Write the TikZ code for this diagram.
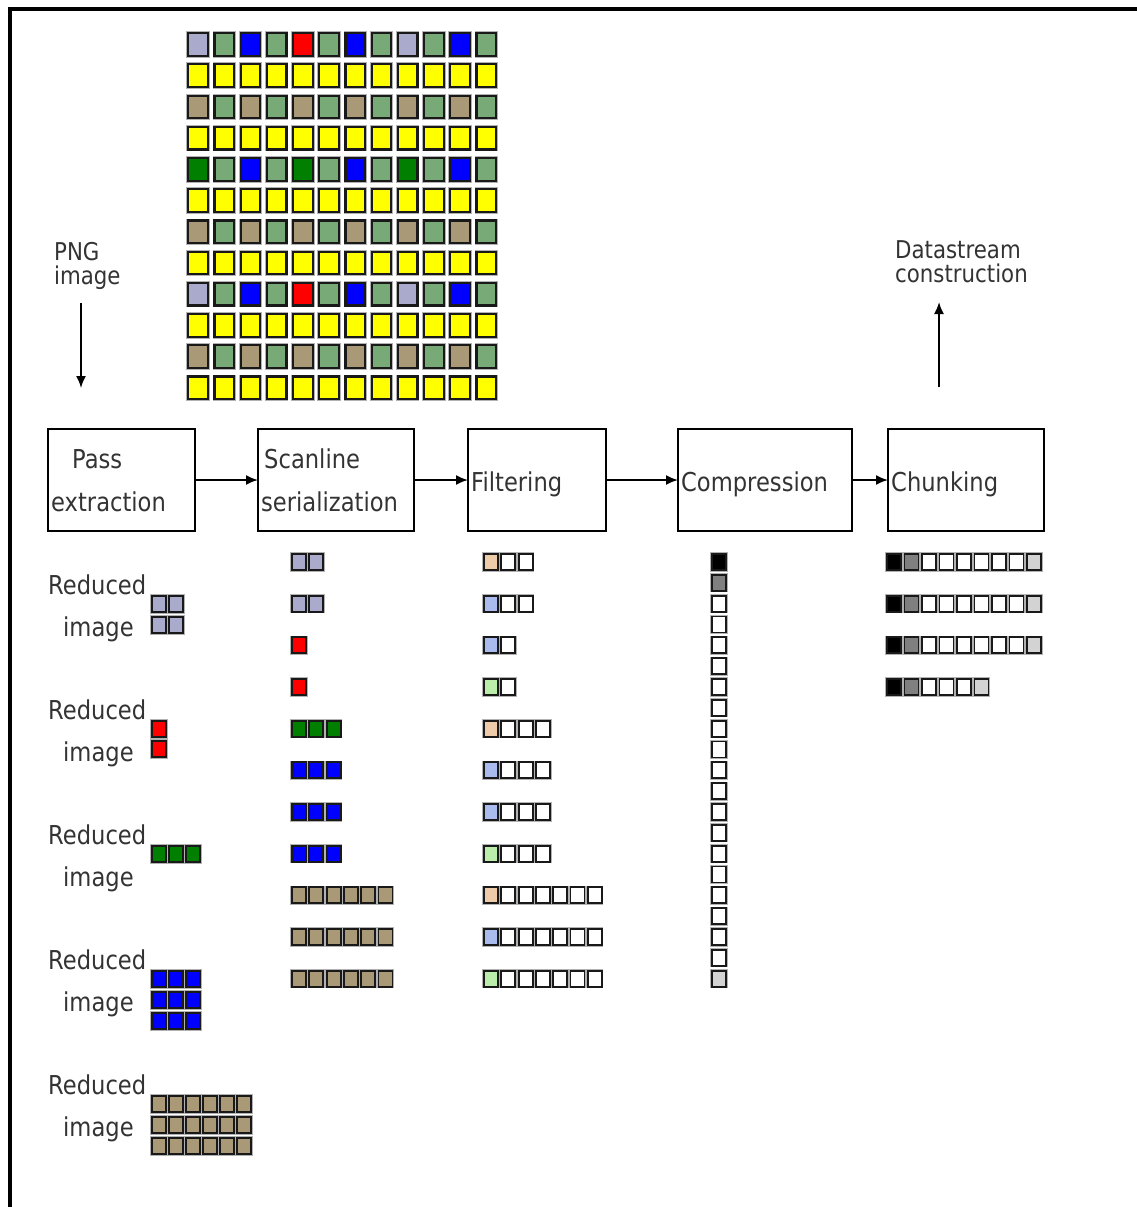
\documentclass[tikz,border=0pt]{standalone}
\usepackage{fontspec}
\setmainfont{DejaVu Sans}[FakeStretch=0.87]
\usetikzlibrary{arrows.meta}
\definecolor{cL}{HTML}{AAAACC}
\definecolor{cG}{HTML}{77AA77}
\definecolor{cB}{HTML}{0000FF}
\definecolor{cR}{HTML}{FF0000}
\definecolor{cY}{HTML}{FFFF00}
\definecolor{cT}{HTML}{AA9977}
\definecolor{cD}{HTML}{007F00}
\definecolor{fP}{HTML}{EECCAA}
\definecolor{fB}{HTML}{AABBEE}
\definecolor{fG}{HTML}{BBEEAA}
\definecolor{W}{HTML}{FFFFFF}
\definecolor{K}{HTML}{000000}
\definecolor{Gr}{HTML}{808080}
\definecolor{Lg}{HTML}{D3D3D3}
\newcommand\myrow[4]{% x, y, pitch, colours
  \foreach \c [count=\i from 0] in #4 {
    \draw[smsq, fill=\c] ({#1+#3*\i+1},{#2+1}) rectangle ++(14,16);
  }}
\begin{document}
\begin{tikzpicture}[x=1pt,y=-1pt,
  bigsq/.style={draw=black!90, line width=2.2pt, preaction={draw=black!30, line width=3.8pt}},
  smsq/.style={draw=black!90, line width=1.8pt, preaction={draw=black!30, line width=3.2pt}},
  box/.style={draw=black, line width=1.8pt, inner sep=0pt, outer sep=0pt},
  lbl/.style={anchor=base west, inner sep=0pt, text=black!80, font=\fontsize{26}{26}\selectfont},
  tight/.style={anchor=north west, inner sep=0pt, text=black!80, align=left, font=\fontsize{24.5}{24}\selectfont},
  arr/.style={-{Latex[length=12pt,width=10pt]}, line width=1.8pt}]
\useasboundingbox (0,0) rectangle (1137,1207);
% frame
\draw[line width=4pt] (10,1212) -- (10,9.5) -- (1142,9.5);

% top image grid
\foreach \row [count=\j from 0] in {
 {cL,cG,cB,cG,cR,cG,cB,cG,cL,cG,cB,cG},
 {cY,cY,cY,cY,cY,cY,cY,cY,cY,cY,cY,cY},
 {cT,cG,cT,cG,cT,cG,cT,cG,cT,cG,cT,cG},
 {cY,cY,cY,cY,cY,cY,cY,cY,cY,cY,cY,cY},
 {cD,cG,cB,cG,cD,cG,cB,cG,cD,cG,cB,cG},
 {cY,cY,cY,cY,cY,cY,cY,cY,cY,cY,cY,cY},
 {cT,cG,cT,cG,cT,cG,cT,cG,cT,cG,cT,cG},
 {cY,cY,cY,cY,cY,cY,cY,cY,cY,cY,cY,cY},
 {cL,cG,cB,cG,cR,cG,cB,cG,cL,cG,cB,cG},
 {cY,cY,cY,cY,cY,cY,cY,cY,cY,cY,cY,cY},
 {cT,cG,cT,cG,cT,cG,cT,cG,cT,cG,cT,cG},
 {cY,cY,cY,cY,cY,cY,cY,cY,cY,cY,cY,cY}} {
  \foreach \c [count=\i from 0] in \row {
    \draw[bigsq, fill=\c] ({187+26.2*\i+1.2},{32+31.2*\j+1.2}) rectangle ++(19.6,22.6);
  }
}

% side labels and arrows
\node[tight] (png) at (54,242) {PNG\\image};
\coordinate (pngtop) at (81,303);
\coordinate (pngbot) at (81,388);
\draw[arr] (pngtop) -- (pngbot);

\node[tight] (ds) at (895,240) {Datastream\\construction};
\coordinate (dsbot) at (939,387);
\coordinate (dstop) at (939,302);
\draw[arr] (dsbot) -- (dstop);

% process boxes
\node[box, minimum width=147pt, minimum height=102pt] (pass) at (121.5,480) {};
\node[box, minimum width=156pt, minimum height=102pt] (scan) at (336,480) {};
\node[box, minimum width=138pt, minimum height=102pt] (filt) at (537,480) {};
\node[box, minimum width=174pt, minimum height=102pt] (comp) at (765,480) {};
\node[box, minimum width=156pt, minimum height=102pt] (chunk) at (966,480) {};

\node[lbl] (passa) at (72,468) {Pass};
\node[lbl] (passb) at (51,511) {extraction};
\node[lbl] (scana) at (264,468) {Scanline};
\node[lbl] (scanb) at (261,511) {serialization};
\node[lbl] (filta) at (471,491) {Filtering};
\node[lbl] (compa) at (681,491) {Compression};
\node[lbl] (chunka) at (891,491) {Chunking};

\draw[arr] (pass.east) -- (scan.west);
\draw[arr] (scan.east) -- (filt.west);
\draw[arr] (filt.east) -- (comp.west);
\draw[arr] (comp.east) -- (chunk.west);

% reduced images
\foreach \k in {0,...,4} {
  \node[lbl] (reda\k) at (48,{594+125*\k}) {Reduced};
  \node[lbl] (redb\k) at (63,{636+125*\k}) {image};
}
\myrow{151}{595}{17}{{cL,cL}}
\myrow{151}{616}{17}{{cL,cL}}
\myrow{151}{720}{17}{{cR}}
\myrow{151}{740}{17}{{cR}}
\myrow{151}{845}{17}{{cD,cD,cD}}
\foreach \r in {0,1,2} {\myrow{151}{970+21*\r}{17}{{cB,cB,cB}}}
\foreach \r in {0,1,2} {\myrow{151}{1095+21*\r}{17}{{cT,cT,cT,cT,cT,cT}}}

% scanline serialization
\foreach \cols [count=\r from 0] in {
 {cL,cL},{cL,cL},{cR},{cR},{cD,cD,cD},{cB,cB,cB},{cB,cB,cB},{cB,cB,cB},
 {cT,cT,cT,cT,cT,cT},{cT,cT,cT,cT,cT,cT},{cT,cT,cT,cT,cT,cT}} {
  \myrow{291}{553+41.67*\r}{17.3}{\cols}
}

% filtering
\foreach \cols [count=\r from 0] in {
 {fP,W,W},{fB,W,W},{fB,W},{fG,W},{fP,W,W,W},{fB,W,W,W},{fB,W,W,W},{fG,W,W,W},
 {fP,W,W,W,W,W,W},{fB,W,W,W,W,W,W},{fG,W,W,W,W,W,W}} {
  \myrow{483}{553+41.67*\r}{17.3}{\cols}
}

% compression
\foreach \c [count=\k from 0] in {K,Gr,W,W,W,W,W,W,W,W,W,W,W,W,W,W,W,W,W,W,Lg} {
  \draw[smsq, fill=\c] (712,{553+20.83*\k+1}) rectangle ++(14,16);
}

% chunking
\foreach \cols [count=\r from 0] in {
 {K,Gr,W,W,W,W,W,W,Lg},{K,Gr,W,W,W,W,W,W,Lg},{K,Gr,W,W,W,W,W,W,Lg},{K,Gr,W,W,W,Lg}} {
  \myrow{886}{553+41.67*\r}{17.5}{\cols}
}
\end{tikzpicture}
\end{document}
